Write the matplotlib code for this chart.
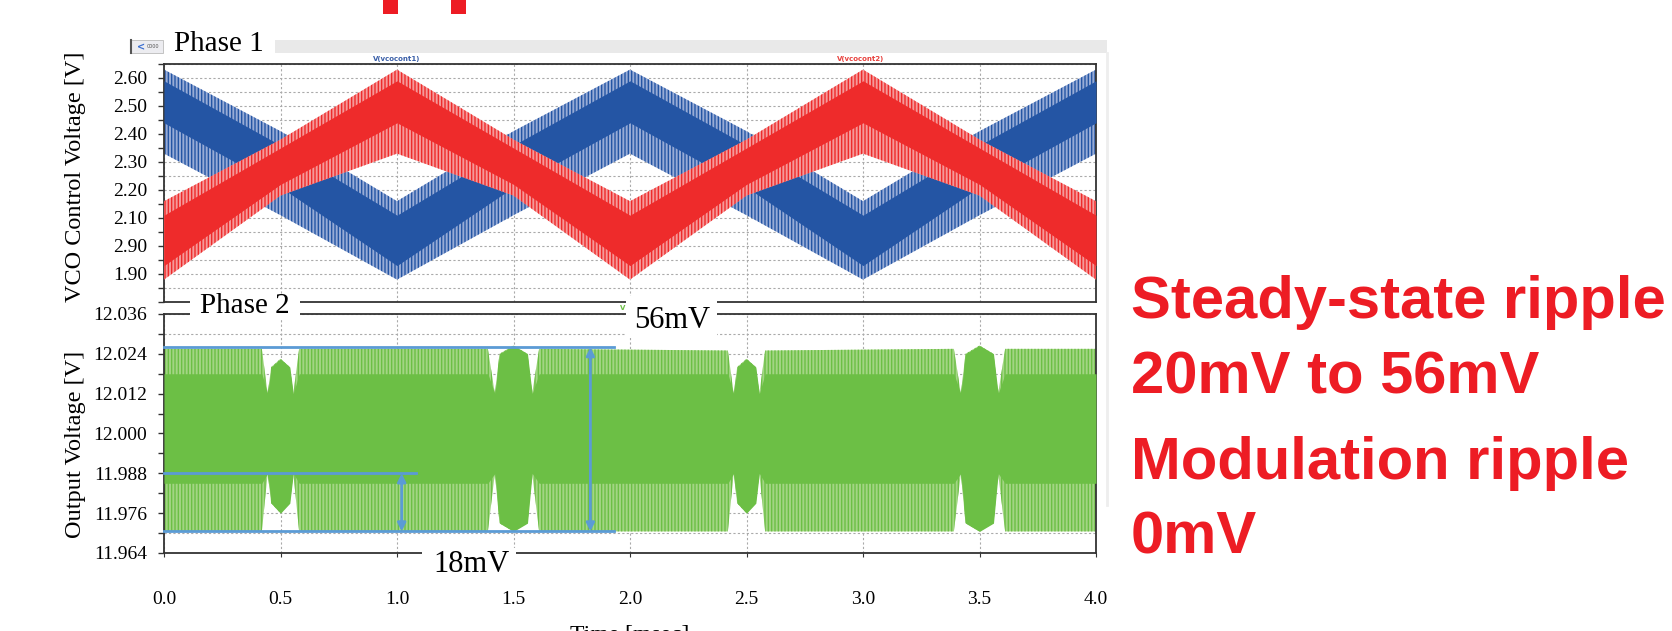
import matplotlib.pyplot as plt
from matplotlib.patches import Rectangle
from matplotlib.ticker import MultipleLocator
import numpy as np

plt.rcParams['hatch.linewidth'] = 1.0

W, H = 1672, 631
blue = '#2455a4'
red = '#ee2b2b'
green = '#6cbf45'
meas = '#5b9bd5'
txt_red = '#ed1c24'
spine_c = '#333333'

# ---- data ----
phase1_t = [0.0, 0.5, 1.0, 1.5, 2.0, 2.5, 3.0, 3.5, 4.0]
blue_outer_top = [2.63, 2.41, 2.16, 2.41, 2.63, 2.41, 2.16, 2.41, 2.63]
blue_core_top = [2.59, 2.36, 2.11, 2.36, 2.59, 2.36, 2.11, 2.36, 2.59]
blue_core_bot = [2.44, 2.21, 1.93, 2.21, 2.44, 2.21, 1.93, 2.21, 2.44]
blue_outer_bot = [2.33, 2.11, 1.88, 2.11, 2.33, 2.11, 1.88, 2.11, 2.33]
red_outer_top = [2.16, 2.38, 2.63, 2.38, 2.16, 2.38, 2.63, 2.38, 2.16]
red_core_top = [2.11, 2.35, 2.59, 2.35, 2.11, 2.35, 2.59, 2.35, 2.11]
red_core_bot = [1.93, 2.22, 2.44, 2.22, 1.93, 2.22, 2.44, 2.22, 1.93]
red_outer_bot = [1.88, 2.18, 2.33, 2.18, 1.88, 2.18, 2.33, 2.18, 1.88]

green_t = [0.00, 0.42, 0.445, 0.46, 0.50, 0.54, 0.555, 0.58,
           1.39, 1.42, 1.44, 1.50, 1.56, 1.58, 1.61,
           2.42, 2.445, 2.46, 2.50, 2.54, 2.555, 2.58,
           3.39, 3.42, 3.44, 3.50, 3.56, 3.58, 3.61, 4.00]
green_outer_top = [12.0255, 12.0255, 12.012, 12.020, 12.0225, 12.020, 12.012, 12.0255,
                   12.0255, 12.012, 12.024, 12.0265, 12.024, 12.012, 12.0255,
                   12.0250, 12.012, 12.020, 12.0225, 12.020, 12.012, 12.0250,
                   12.0255, 12.012, 12.024, 12.0265, 12.024, 12.012, 12.0255, 12.0255]
green_core_top = [12.018, 12.018, 12.012, 12.020, 12.0225, 12.020, 12.012, 12.018,
                  12.018, 12.012, 12.024, 12.0265, 12.024, 12.012, 12.018,
                  12.018, 12.012, 12.020, 12.0225, 12.020, 12.012, 12.018,
                  12.018, 12.012, 12.024, 12.0265, 12.024, 12.012, 12.018, 12.018]
green_core_bot = [11.985, 11.985, 11.988, 11.979, 11.976, 11.979, 11.988, 11.985,
                  11.985, 11.988, 11.973, 11.9705, 11.973, 11.988, 11.985,
                  11.985, 11.988, 11.979, 11.976, 11.979, 11.988, 11.985,
                  11.985, 11.988, 11.973, 11.9705, 11.973, 11.988, 11.985, 11.985]
green_outer_bot = [11.9705, 11.9705, 11.988, 11.979, 11.976, 11.979, 11.988, 11.9705,
                   11.9705, 11.988, 11.973, 11.9705, 11.973, 11.988, 11.9705,
                   11.9705, 11.988, 11.979, 11.976, 11.979, 11.988, 11.9705,
                   11.9705, 11.988, 11.973, 11.9705, 11.973, 11.988, 11.9705, 11.9705]

# ripple measurement markers
ripple56_y = [11.9705, 12.026]
ripple56_x = 1.83
ripple56_end = 1.93
ripple18_y = [11.9705, 11.988]
ripple18_x = 1.02
ripple18_end = 1.08

x_ticks = [0.0, 0.5, 1.0, 1.5, 2.0, 2.5, 3.0, 3.5, 4.0]
x_labels = ['0.0', '0.5', '1.0', '1.5', '2.0', '2.5', '3.0', '3.5', '4.0']
top_ticks = [1.90, 2.00, 2.10, 2.20, 2.30, 2.40, 2.50, 2.60]
top_labels = ['1.90', '2.90', '2.10', '2.20', '2.30', '2.40', '2.50', '2.60']
bot_ticks = [11.964, 11.976, 11.988, 12.000, 12.012, 12.024, 12.036]
bot_labels = ['11.964', '11.976', '11.988', '12.000', '12.012', '12.024', '12.036']

fig = plt.figure(figsize=(W / 100, H / 100), dpi=100, facecolor='white')


def px_axes(l, t, r, b, **kw):
    return fig.add_axes([l / W, 1 - b / H, (r - l) / W, (b - t) / H], **kw)


def band(ax, t, lo, hi, col, tint, z):
    ax.fill_between(t, lo, hi, facecolor=tint, edgecolor=col, hatch='|||||',
                    linewidth=0, zorder=z)


def style(ax, ticks, labels, minor):
    ax.set_xlim(0, 4.0)
    ax.set_yticks(ticks)
    ax.set_yticklabels(labels)
    ax.yaxis.set_minor_locator(MultipleLocator(minor))
    ax.set_xticks(x_ticks)
    ax.grid(True, axis='y', which='both', color='#aaaaaa', ls=(0, (2, 2)), lw=0.8)
    ax.grid(True, axis='x', which='major', color='#aaaaaa', ls=(0, (2, 2)), lw=0.8)
    ax.set_axisbelow(True)
    ax.tick_params(axis='y', which='both', direction='out', length=4, width=1,
                   color=spine_c, pad=8, labelsize=14)
    for s in ax.spines.values():
        s.set_color(spine_c)
        s.set_linewidth(1.3)
    for lab in ax.get_yticklabels():
        lab.set_fontfamily('Liberation Serif')


# ---- Phase 1 ----
ax1 = px_axes(164, 64, 1096, 302)
band(ax1, phase1_t, blue_outer_bot, blue_outer_top, blue, '#98acd6', 2)
ax1.fill_between(phase1_t, blue_core_bot, blue_core_top, color=blue, lw=0, zorder=3)
band(ax1, phase1_t, red_outer_bot, red_outer_top, red, '#f59a9a', 4)
ax1.fill_between(phase1_t, red_core_bot, red_core_top, color=red, lw=0, zorder=5)
ax1.set_ylim(1.80, 2.65)
style(ax1, top_ticks, top_labels, 0.05)
ax1.tick_params(axis='x', length=0, labelbottom=False)

# ---- Phase 2 ----
ax2 = px_axes(164, 314, 1096, 553)
band(ax2, green_t, green_outer_bot, green_outer_top, green, '#a3d584', 2)
ax2.fill_between(green_t, green_core_bot, green_core_top, color=green, lw=0, zorder=3)
ax2.set_ylim(11.964, 12.036)
style(ax2, bot_ticks, bot_labels, 0.006)
ax2.set_xticklabels(x_labels, fontfamily='Liberation Serif')
ax2.tick_params(axis='x', direction='out', length=3, color=spine_c, pad=24, labelsize=14)

ax2.plot([0, ripple56_end], [ripple56_y[1]] * 2, color=meas, lw=2, zorder=6, clip_on=False)
ax2.plot([0, ripple56_end], [ripple56_y[0]] * 2, color=meas, lw=2, zorder=6, clip_on=False)
ax2.plot([0, ripple18_end], [ripple18_y[1]] * 2, color=meas, lw=2, zorder=6, clip_on=False)
for xm, ys in [(ripple56_x, ripple56_y), (ripple18_x, ripple18_y)]:
    ax2.annotate('', xy=(xm, ys[0]), xytext=(xm, ys[1]), zorder=7,
                 arrowprops=dict(arrowstyle='<|-|>', color=meas, lw=2,
                                 mutation_scale=12, shrinkA=0, shrinkB=0))

# ---- overlay with labels, boxes and screenshot bits ----
ov = fig.add_axes([0, 0, 1, 1], zorder=10)
ov.set_xlim(0, W)
ov.set_ylim(H, 0)
ov.axis('off')
ov.patch.set_alpha(0)

serif = 'Liberation Serif'
ov.add_patch(Rectangle((275, 40), 832, 13, facecolor='#e9e9e9', lw=0))
ov.add_patch(Rectangle((130, 40), 33, 13, facecolor='#ececf0', edgecolor='#bbbbbb', lw=0.6))
ov.plot([130.5, 130.5], [40, 53], color='#555555', lw=1.5)
ov.text(141, 47, '<', color='#3a6ed0', fontsize=7, fontweight='bold', ha='center', va='center')
ov.text(147, 47, '0000', color='#555555', fontsize=3.5, ha='left', va='center')
ov.plot([1107, 1107], [53, 505], color='#eeeeee', lw=2)
ov.add_patch(Rectangle((383, 0), 15, 14, facecolor=txt_red, lw=0))
ov.add_patch(Rectangle((451, 0), 15, 14, facecolor=txt_red, lw=0))

ov.text(174, 51, 'Phase 1', fontsize=21, fontfamily=serif, ha='left', va='baseline')
ov.text(397, 59, 'V(vcocont1)', fontsize=5, color='#3a5fa8', fontweight='bold',
        ha='center', va='center')
ov.text(861, 59, 'V(vcocont2)', fontsize=5, color='#e8413d', fontweight='bold',
        ha='center', va='center')
ov.text(620, 308, 'V', fontsize=5, color=green, fontweight='bold',
        ha='left', va='center')

ov.add_patch(Rectangle((190, 296), 110, 24, facecolor='white', lw=0, zorder=2))
ov.text(245, 313, 'Phase 2', fontsize=21, fontfamily=serif, ha='center', va='baseline')
ov.add_patch(Rectangle((626, 296), 91, 42, facecolor='white', lw=0, zorder=2))
ov.text(634, 328, '56mV', fontsize=22, fontfamily=serif, ha='left', va='baseline')
ov.add_patch(Rectangle((422, 548), 94, 34, facecolor='white', lw=0, zorder=2))
ov.text(433, 572, '18mV', fontsize=22, fontfamily=serif, ha='left', va='baseline')

ov.text(75, 177, 'VCO Control Voltage [V]', fontsize=17.5, fontfamily=serif,
        rotation=90, ha='center', va='center')
ov.text(75, 444, 'Output Voltage [V]', fontsize=17.5, fontfamily=serif,
        rotation=90, ha='center', va='center')
ov.text(630, 624, 'Time [msec]', fontsize=17, fontfamily=serif, ha='center', va='top')

for y, s in [(318, 'Steady-state ripple'), (393, '20mV to 56mV'),
             (479, 'Modulation ripple'), (554, '0mV')]:
    ov.text(1131, y, s, fontsize=43, fontweight='bold', fontfamily='Liberation Sans',
            color=txt_red, ha='left', va='baseline')

fig.savefig('out.png', dpi=100, facecolor='white')
plt.close(fig)
